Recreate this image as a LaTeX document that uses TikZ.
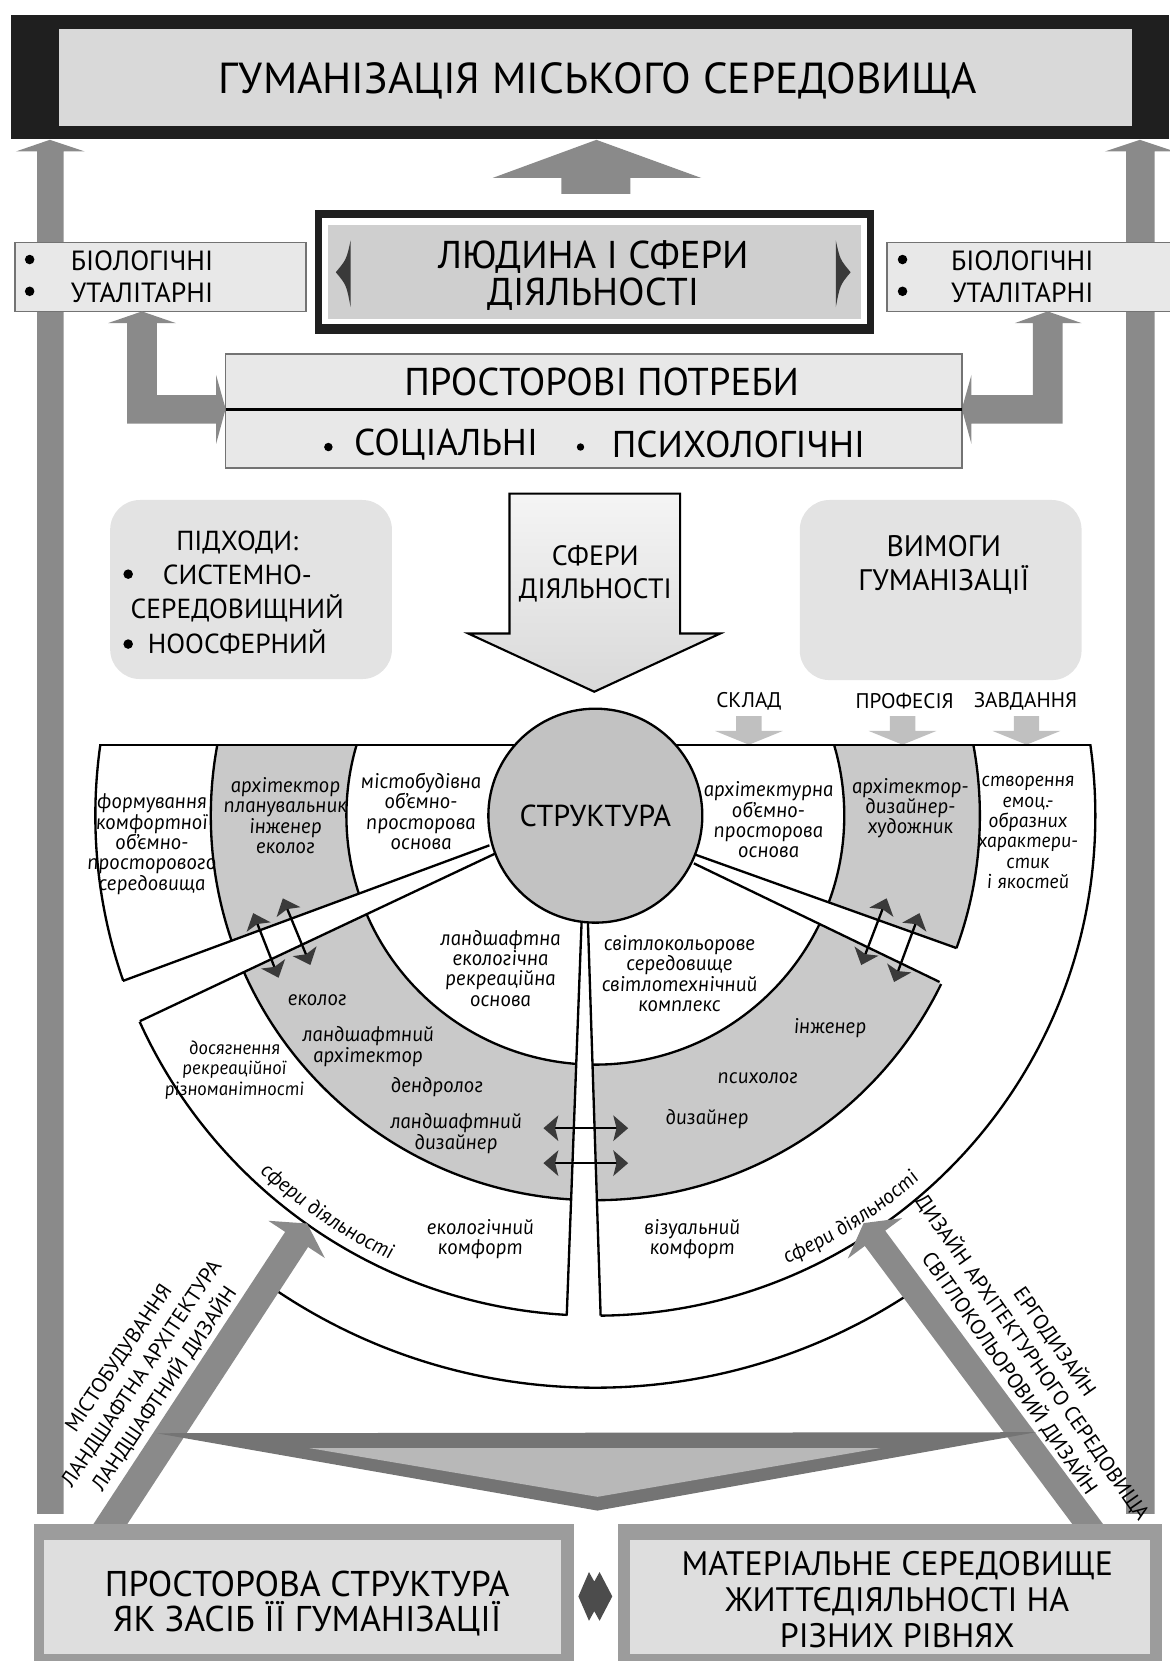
\documentclass[tikz,border=0pt]{standalone}
\usepackage{fontspec}
\setmainfont{PT Sans}
\newfontfamily\capfont{PT Sans}
\newfontfamily\labfont{PT Sans}[ItalicFeatures={FakeSlant=-0.14}]
\usetikzlibrary{arrows.meta,decorations.text}

\definecolor{framedark}{HTML}{1F1F1F}
\definecolor{titlefill}{HTML}{D9D9D9}
\definecolor{arrowgray}{HTML}{8A8A8A}
\definecolor{boxfill}{HTML}{E8E8E8}
\definecolor{roundfill}{HTML}{E3E3E3}
\definecolor{centerfill}{HTML}{CFCFCF}
\definecolor{ringgray}{HTML}{C9C9C9}
\definecolor{hubgray}{HTML}{C2C2C2}
\definecolor{lightarrow}{HTML}{C0C0C0}
\definecolor{tipdark}{HTML}{3A3A3A}
\definecolor{vdark}{HTML}{747474}
\definecolor{vlight}{HTML}{B8B8B8}
\definecolor{bottomframe}{HTML}{9C9C9C}
\definecolor{bottomfill}{HTML}{DEDEDE}

\tikzset{
  capstext/.style 2 args={font=\capfont\fontsize{#1}{#2}\selectfont, align=center, inner sep=0pt},
  roletext/.style={font=\labfont\itshape\fontsize{10}{9.6}\selectfont, align=center, inner sep=0pt},
  fieldtext/.style={font=\fontsize{10}{13}\selectfont, align=center, inner sep=0pt},
  sidebox/.style={fill=boxfill, draw=black!55, line width=0.8pt},
  softbox/.style={fill=roundfill, rounded corners=14pt},
  ringline/.style={line width=1.1pt},
  hubnode/.style={circle, draw, line width=1.1pt, fill=hubgray, minimum size=101pt, inner sep=0pt, font=\capfont\fontsize{14.3}{15}\selectfont},
  crossarrow/.style={line width=1.1pt, {Stealth[length=7pt,width=12pt,inset=1.5pt,color=tipdark]}-{Stealth[length=7pt,width=12pt,inset=1.5pt,color=tipdark]}},
}

\begin{document}
\begin{tikzpicture}[x=0.5pt,y=-0.5pt]
\useasboundingbox (0,0) rectangle (1104,1568);

\fill[framedark] (10,14) rectangle (1104,131);
\fill[titlefill] (56,27) rectangle (1069,119);
\node[capstext={20.5}{24}] (title) at (564,76) {ГУМАНІЗАЦІЯ МІСЬКОГО СЕРЕДОВИЩА};

\fill[arrowgray] (35,1429) -- (35,143) -- (15,143) -- (47,132) -- (80,143) -- (60,143) -- (60,1429) -- cycle;
\fill[arrowgray] (1063,1429) -- (1063,143) -- (1043,143) -- (1076,132) -- (1109,143) -- (1090,143) -- (1090,1429) -- cycle;
\fill[arrowgray] (530,183) -- (530,168) -- (465,168) -- (563,132) -- (662,168) -- (595,168) -- (595,183) -- cycle;

\filldraw[sidebox] (14,229) rectangle (289,294);
\filldraw[sidebox] (837,229) rectangle (1110,294);
\fill (28,245) circle (4.5) (28,275) circle (4.5);
\fill (852,245) circle (4.5) (852,275) circle (4.5);
\node[capstext={13.1}{15}] (bioleft) at (134,261) {БІОЛОГІЧНІ\\УТАЛІТАРНІ};
\node[capstext={13.1}{15}] (bioright) at (965,261) {БІОЛОГІЧНІ\\УТАЛІТАРНІ};

\fill[framedark] (297,198) rectangle (825,315);
\fill[white] (304,206) rectangle (818,306);
\fill[centerfill] (310,212) rectangle (813,301);
\fill[tipdark] (331,227) .. controls (327,245) .. (317,257) .. controls (327,269) .. (331,290) -- cycle;
\fill[tipdark] (789,227) .. controls (793,245) .. (803,257) .. controls (793,269) .. (789,290) -- cycle;
\node[capstext={18.3}{17.5}] (person) at (560,260) {ЛЮДИНА І СФЕРИ\\ДІЯЛЬНОСТІ};

\fill[arrowgray] (120,400) -- (120,305) -- (102,305) -- (134,294) -- (166,305) -- (148,305) -- (148,373) -- (204,373) -- (204,354) -- (213,386) -- (204,419) -- (204,400) -- cycle;
\fill[arrowgray] (1003,400) -- (1003,305) -- (1021,305) -- (989,294) -- (958,305) -- (975,305) -- (975,373) -- (917,373) -- (917,354) -- (908,386) -- (917,419) -- (917,400) -- cycle;

\filldraw[sidebox] (213,334) rectangle (908,387);
\filldraw[sidebox] (213,387) rectangle (908,442);
\draw[line width=1.4pt] (213,387) -- (908,387);
\node[capstext={18.3}{18}] (needs) at (568,361) {ПРОСТОРОВІ ПОТРЕБИ};
\fill (310,422) circle (4) (548,422) circle (3.5);
\node[capstext={17.6}{18}] (social) at (421,420) {СОЦІАЛЬНІ};
\node[capstext={17.6}{18}] (psych) at (697,420) {ПСИХОЛОГІЧНІ};

\fill[softbox] (104,472) rectangle (370,641);
\fill[softbox] (755,472) rectangle (1021,642);
\node[capstext={13}{16.2}] (approach) at (224,559) {ПІДХОДИ:\\СИСТЕМНО-\\СЕРЕДОВИЩНИЙ\\НООСФЕРНИЙ};
\fill (121,542) circle (4.5) (121,608) circle (4.5);
\node[capstext={14}{16}] (demands) at (891,533) {ВИМОГИ\\ГУМАНІЗАЦІЇ};

\filldraw[top color=gray!8, bottom color=gray!30, draw=black, line width=1pt] (481,466) -- (642,466) -- (642,598) -- (680,598) -- (561,653) -- (442,598) -- (481,598) -- cycle;
\node[capstext={13.2}{15.5}] (spheres) at (562,542) {СФЕРИ\\ДІЯЛЬНОСТІ};

\node[capstext={10}{10}] (compos) at (707,662) {СКЛАД};
\node[capstext={10}{10}] (prof) at (854,662) {ПРОФЕСІЯ};
\node[capstext={10}{10}] (task) at (968,662) {ЗАВДАННЯ};
\foreach \x in {707,852,969}
  \fill[lightarrow] (\x-12,676) -- (\x+12,676) -- (\x+12,690) -- (\x+32,690) -- (\x,703) -- (\x-32,690) -- (\x-12,690) -- cycle;

\coordinate (c) at (562,770);
\begin{scope}
\clip (0,703) rectangle (1104,1568);
\fill[ringgray, even odd rule] (c) circle[radius=363] (c) circle[radius=235];
\draw[ringline] (c) circle[radius=235] (c) circle[radius=363] (c) circle[radius=472];
\end{scope}
\draw[ringline] (c) ++(56:540) arc[start angle=56, end angle=124, radius=540];

\fill[white] (462,798) -- (105,930) -- (122,969) -- (467,806) -- cycle;
\fill[white] (657,807) -- (908,897) -- (891,930) -- (655,815) -- cycle;
\fill[white] (549,871) -- (534.7,1250) -- (567.3,1250) -- (555,871) -- cycle;
\draw[ringline] (462,798) -- (116,926);
\draw[ringline] (467,806) -- (132,964);
\draw[ringline] (657,807) -- (903,895);
\draw[ringline] (655,815) -- (887,927);
\draw[ringline] (549,871) -- (535,1242);
\draw[ringline] (555,871) -- (567,1242);
\draw[ringline] (95,703) -- (1029,703);
\node[hubnode] (hub) at (c) {СТРУКТУРА};

\node[roletext] (ul-out) at (144,797) {формування\\комфортної\\об’ємно-\\просторового\\середовища};
\node[roletext] (ul-mid) at (270,770) {архітектор\\планувальник\\інженер\\еколог};
\node[roletext] (ul-in) at (398,766) {містобудівна\\об’ємно-\\просторова\\основа};
\node[roletext] (ll-in) at (473,914) {ландшафтна\\екологічна\\рекреаційна\\основа};
\node[roletext] (ll-eco) at (300,944) {еколог};
\node[roletext] (ll-arch) at (348,988) {ландшафтний\\архітектор};
\node[roletext] (ll-dend) at (413,1026) {дендролог};
\node[roletext] (ll-des) at (431,1070) {ландшафтний\\дизайнер};
\node[roletext, font=\labfont\itshape\fontsize{9}{9.6}\selectfont] (ll-out) at (222,1010) {досягнення\\рекреаційної\\різноманітності};
\node[roletext] (ll-comf) at (454,1170) {екологічний\\комфорт};
\node[roletext] (lr-in) at (642,919) {світлокольорове\\середовище\\світлотехнічний\\комплекс};
\node[roletext] (lr-eng) at (784,971) {інженер};
\node[roletext] (lr-psy) at (716,1018) {психолог};
\node[roletext] (lr-des) at (668,1056) {дизайнер};
\node[roletext] (lr-comf) at (654,1170) {візуальний\\комфорт};
\node[roletext] (ur-in) at (726,774) {архітектурна\\об’ємно-\\просторова\\основа};
\node[roletext] (ur-mid) at (860,763) {архітектор-\\дизайнер-\\художник};
\node[roletext, font=\labfont\itshape\fontsize{9.5}{9.6}\selectfont] (ur-out) at (971,786) {створення\\емоц.-\\образних\\характери-\\стик\\і якостей};

\path[decorate, decoration={text along path, text align=center, text={|\labfont\itshape\fontsize{10}{10}\selectfont|сфери діяльності}}] (c) ++(140:462) arc[start angle=140, end angle=108, radius=462];
\path[decorate, decoration={text along path, text align=center, text={|\labfont\itshape\fontsize{10}{10}\selectfont|сфери діяльності}}] (c) ++(72:460) arc[start angle=72, end angle=43, radius=460];

\coordinate (la1) at (239,862); \coordinate (lb1) at (263,923);
\coordinate (la2) at (267,848); \coordinate (lb2) at (293,911);
\coordinate (ra1) at (837,848); \coordinate (rb1) at (813,911);
\coordinate (ra2) at (868,862); \coordinate (rb2) at (844,927);
\coordinate (va1) at (513,1065); \coordinate (vb1) at (593,1065);
\coordinate (va2) at (513,1098); \coordinate (vb2) at (593,1098);
\draw[crossarrow] (la1) -- (lb1);
\draw[crossarrow] (la2) -- (lb2);
\draw[crossarrow] (ra1) -- (rb1);
\draw[crossarrow] (ra2) -- (rb2);
\draw[crossarrow] (va1) -- (vb1);
\draw[crossarrow] (va2) -- (vb2);

\fill[arrowgray] (88,1439) -- (269.2,1162.9) -- (253.3,1152.4) -- (289.9,1155) -- (306.7,1187.6) -- (290.8,1177.2) -- (120,1439) -- cycle;
\fill[arrowgray] (1012.5,1439) -- (816.4,1176.2) -- (800.3,1188.1) -- (815.3,1154.6) -- (851.7,1149.9) -- (835.6,1161.8) -- (1041.5,1439) -- cycle;
\node[fieldtext, rotate=56] (leftfields) at (134,1297) {МІСТОБУДУВАННЯ\\ЛАНДШАФТНА АРХІТЕКТУРА\\ЛАНДШАФТНИЙ ДИЗАЙН};
\node[fieldtext, rotate=-55] (rightfields) at (975,1281) {ЕРГОДИЗАЙН\\ДИЗАЙН АРХІТЕКТУРНОГО СЕРЕДОВИЩА\\СВІТЛОКОЛЬОРОВИЙ ДИЗАЙН};

\fill[vdark] (148,1353) -- (978,1352) -- (564,1426) -- cycle;
\fill[vlight] (292,1367) -- (831,1367) -- (564,1413) -- cycle;

\fill[bottomframe] (32,1439) rectangle (542,1575);
\fill[bottomfill] (42,1454) rectangle (530,1561);
\fill[bottomframe] (583,1439) rectangle (1097,1575);
\fill[bottomfill] (595,1454) rectangle (1086,1561);
\node[capstext={16.9}{16.5}] (means) at (290,1514) {ПРОСТОРОВА СТРУКТУРА\\ЯК ЗАСІБ ЇЇ ГУМАНІЗАЦІЇ};
\node[capstext={16}{17.2}] (milieu) at (847,1510) {МАТЕРІАЛЬНЕ СЕРЕДОВИЩЕ\\ЖИТТЄДІЯЛЬНОСТІ НА\\РІЗНИХ РІВНЯХ};
\fill[black!70] (546,1507) -- (556,1484) -- (561,1493) -- (566,1484) -- (578,1507) -- (566,1530) -- (561,1521) -- (556,1530) -- cycle;
\end{tikzpicture}
\end{document}
